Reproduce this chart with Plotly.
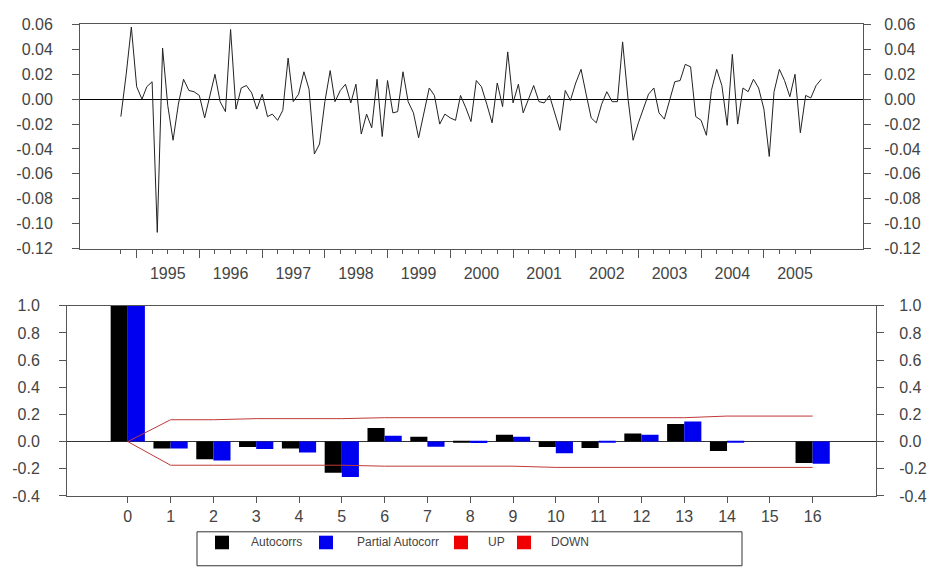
import plotly.graph_objects as go
import pandas as pd

W, H = 929, 567

# ---------------- data: monthly returns (Oct 1994 .. Dec 2005) ----------------
start_month = "1994-10-01"
returns = [
    -0.014, 0.020, 0.058, 0.010, 0.000, 0.010, 0.014, -0.107, 0.041, -0.005,
    -0.033, -0.004, 0.016, 0.007, 0.006, 0.003, -0.015, 0.003, 0.020, -0.002,
    -0.010, 0.056, -0.008, 0.009, 0.011, 0.005, -0.008, 0.004, -0.014, -0.012,
    -0.017, -0.009, 0.033, -0.002, 0.004, 0.022, 0.008, -0.044, -0.036, -0.002,
    0.023, -0.002, 0.007, 0.012, -0.003, 0.012, -0.028, -0.012, -0.023, 0.016,
    -0.030, 0.015, -0.011, -0.010, 0.022, -0.002, -0.011, -0.031, -0.012, 0.009,
    0.003, -0.020, -0.012, -0.015, -0.017, 0.003, -0.007, -0.018, 0.015, 0.010,
    -0.004, -0.019, 0.013, -0.006, 0.038, -0.003, 0.012, -0.011, 0.000, 0.011,
    -0.002, -0.003, 0.003, -0.011, -0.025, 0.007, -0.001, 0.013, 0.024, 0.005,
    -0.015, -0.019, -0.004, 0.006, -0.002, -0.002, 0.046, 0.001, -0.033, -0.019,
    -0.006, 0.004, 0.009, -0.011, -0.016, -0.002, 0.014, 0.015, 0.028, 0.026,
    -0.014, -0.017, -0.029, 0.007, 0.024, 0.011, -0.021, 0.036, -0.020, 0.009,
    0.006, 0.016, 0.009, -0.008, -0.046, 0.006, 0.024, 0.015, 0.002, 0.020,
    -0.027, 0.003, 0.001, 0.011, 0.016,
]
year_labels = [str(y) for y in range(1995, 2006)]
ret_ticks = [0.06, 0.04, 0.02, 0.00, -0.02, -0.04, -0.06, -0.08, -0.10, -0.12]
ret_tick_text = ["0.06", "0.04", "0.02", "0.00", "-0.02", "-0.04", "-0.06",
                 "-0.08", "-0.10", "-0.12"]

# ---------------- data: correlogram ----------------
lags = list(range(17))
acf = [1.0, -0.05, -0.13, -0.04, -0.05, -0.23, 0.10, 0.036, -0.003, 0.05,
       -0.04, -0.048, 0.06, 0.13, -0.07, 0.0, -0.157]
pacf = [1.0, -0.05, -0.14, -0.055, -0.08, -0.26, 0.043, -0.038, -0.01, 0.036,
        -0.086, -0.003, 0.05, 0.148, -0.005, 0.0, -0.164]
band_up = [0.0, 0.161, 0.161, 0.169, 0.169, 0.169, 0.176, 0.176, 0.176, 0.176,
           0.176, 0.176, 0.176, 0.176, 0.188, 0.188, 0.188]
band_down = [0.0, -0.174, -0.174, -0.174, -0.174, -0.174, -0.181, -0.181, -0.181,
             -0.181, -0.19, -0.19, -0.19, -0.19, -0.19, -0.19, -0.19]
corr_ticks = [1.0, 0.8, 0.6, 0.4, 0.2, 0.0, -0.2, -0.4]
corr_tick_text = ["1.0", "0.8", "0.6", "0.4", "0.2", "0.0", "-0.2", "-0.4"]
lag_labels = [str(l) for l in lags]
legend_names = ["Autocorrs", "Partial Autocorr", "UP", "DOWN"]

# ---------------- styles ----------------
FONT = "Liberation Sans, Arial, sans-serif"
TXT = "#444444"
AX = "#555555"
BLACK = "#000000"
BLUE = "#0000f0"
BAND = "#c03838"
RED = "#f00000"

dates = pd.date_range(start_month, periods=len(returns), freq="MS")
year_ticks = [f"{y}-01-01" for y in year_labels]
year_mid = [f"{y}-07-01" for y in year_labels]
quarter_ticks = [d.strftime("%Y-%m-%d") for d in
                 pd.date_range(start_month, "2005-10-01", freq="3MS")]
top_range = ["1994-02-05", "2006-08-01"]


def fx(p):
    return p / W


def fy(p):
    return 1 - p / H


fig = go.Figure()

fig.add_trace(go.Scatter(x=dates, y=returns, mode="lines",
                         line=dict(color="#222222", width=1),
                         xaxis="x", yaxis="y", showlegend=False))
# invisible copies so that the helper axes (ticks / right labels) are drawn
for xa in ("x3", "x4"):
    fig.add_trace(go.Scatter(x=dates, y=returns, mode="lines", opacity=0,
                             line=dict(width=0), hoverinfo="skip",
                             xaxis=xa, yaxis="y3", showlegend=False))

fig.add_trace(go.Bar(x=lags, y=acf, width=0.4, offset=-0.4,
                     marker=dict(color=BLACK, line=dict(width=0)),
                     xaxis="x2", yaxis="y2", name=legend_names[0], showlegend=False))
fig.add_trace(go.Bar(x=lags, y=pacf, width=0.4, offset=0.0,
                     marker=dict(color=BLUE, line=dict(width=0)),
                     xaxis="x2", yaxis="y2", name=legend_names[1], showlegend=False))
fig.add_trace(go.Scatter(x=lags, y=band_up, mode="lines",
                         line=dict(color=BAND, width=1),
                         xaxis="x2", yaxis="y2", name=legend_names[2], showlegend=False))
fig.add_trace(go.Scatter(x=lags, y=band_down, mode="lines",
                         line=dict(color=BAND, width=1),
                         xaxis="x2", yaxis="y2", name=legend_names[3], showlegend=False))
fig.add_trace(go.Scatter(x=lags, y=acf, mode="lines", opacity=0,
                         line=dict(width=0), hoverinfo="skip",
                         xaxis="x2", yaxis="y4", showlegend=False))

common_axis = dict(showgrid=False, showline=True, linecolor=AX, linewidth=1,
                   ticks="outside", tickcolor=AX, tickwidth=1,
                   tickfont=dict(family=FONT, size=16, color=TXT))

fig.update_layout(
    width=W, height=H,
    margin=dict(l=0, r=0, t=0, b=0),
    paper_bgcolor="white", plot_bgcolor="white",
    font=dict(family=FONT, size=16, color=TXT),
    barmode="overlay",
    showlegend=False,
    # top chart: quarterly short ticks
    xaxis=dict(common_axis, anchor="y", domain=[fx(80), fx(863)], type="date",
               range=top_range, tickmode="array", tickvals=quarter_ticks,
               showticklabels=False, ticklen=4, mirror=True, zeroline=False),
    # top chart: long yearly ticks
    xaxis3=dict(common_axis, anchor="y", overlaying="x", side="bottom",
                type="date", range=top_range, tickmode="array",
                tickvals=year_ticks, showticklabels=False, ticklen=8,
                showline=False, zeroline=False),
    # top chart: year labels centred in each year
    xaxis4=dict(common_axis, anchor="y", overlaying="x", side="bottom",
                type="date", range=top_range, tickmode="array",
                tickvals=year_mid, ticktext=year_labels, ticks="",
                showline=False, zeroline=False, ticklabelstandoff=13),
    yaxis=dict(common_axis, anchor="x", domain=[fy(248), fy(17)],
               range=[-0.12, 0.06], tickmode="array", tickvals=ret_ticks,
               ticktext=ret_tick_text, ticklen=7, mirror=True,
               zeroline=True, zerolinecolor="#000000", zerolinewidth=1,
               ticklabelstandoff=16),
    yaxis3=dict(common_axis, anchor="x", overlaying="y", side="right",
                range=[-0.12, 0.06], tickmode="array", tickvals=ret_ticks,
                ticktext=ret_tick_text, ticklen=7, showline=False,
                zeroline=False, ticklabelstandoff=10),
    xaxis2=dict(common_axis, anchor="y2", domain=[fx(67), fx(876)],
                range=[-1.42, 17.48], tickmode="array", tickvals=lags,
                ticktext=lag_labels, ticklen=6, mirror=True, zeroline=False),
    yaxis2=dict(common_axis, anchor="x2", domain=[fy(503), fy(307)],
                range=[-0.4, 1.0], tickmode="array", tickvals=corr_ticks,
                ticktext=corr_tick_text, ticklen=7, mirror=True,
                zeroline=True, zerolinecolor="#333333", zerolinewidth=1,
                ticklabelstandoff=16),
    yaxis4=dict(common_axis, anchor="x2", overlaying="y2", side="right",
                range=[-0.4, 1.0], tickmode="array", tickvals=corr_ticks,
                ticktext=corr_tick_text, ticklen=7, showline=False,
                zeroline=False, ticklabelstandoff=12),
)

# ---------------- manual legend box ----------------
shapes = [dict(type="rect", xref="paper", yref="paper",
               x0=fx(197), x1=fx(742), y0=fy(575), y1=fy(540),
               line=dict(color="#333333", width=1), fillcolor="white")]
legend_colors = [BLACK, BLUE, RED, RED]
sq_x = [215, 319, 454, 517]
txt_x = [249, 355, 486, 549]
annotations = []
for name, col, sx, tx in zip(legend_names, legend_colors, sq_x, txt_x):
    shapes.append(dict(type="rect", xref="paper", yref="paper",
                       x0=fx(sx), x1=fx(sx + 14), y0=fy(558), y1=fy(544),
                       line=dict(width=0), fillcolor=col))
    annotations.append(dict(xref="paper", yref="paper", x=fx(tx), y=fy(551),
                            text=name, showarrow=False, xanchor="left",
                            yanchor="middle",
                            font=dict(family=FONT, size=12, color=TXT)))
fig.update_layout(shapes=shapes, annotations=annotations)

fig.write_html("out.html")
